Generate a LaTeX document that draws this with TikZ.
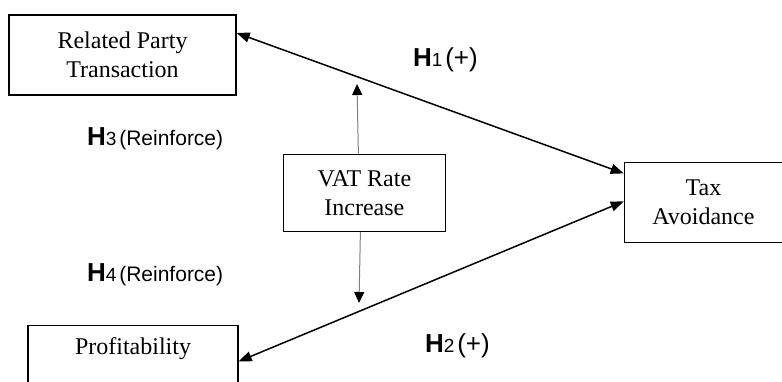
\documentclass[tikz,border=0pt]{standalone}
\usepackage{fontspec}
\setmainfont{Liberation Serif}
\newfontfamily\labelfont{Liberation Sans}
\usetikzlibrary{positioning,arrows.meta}

\tikzset{
    varbox/.style={draw, line width=1.4pt, minimum height=80pt, align=center, inner sep=2pt,
        font=\fontsize{24}{29}\selectfont},
    link/.style={line width=1.5pt, {Triangle[length=13pt,width=10pt]}-{Triangle[length=13pt,width=10pt]}},
    moderate/.style={draw=gray, line width=1pt, -{Triangle[length=11pt,width=10pt,color=black]}},
    hyplabel/.style={anchor=base west, inner sep=0pt, font=\labelfont}
}
\newcommand{\hlabel}[2]{{\fontsize{26}{26}\selectfont\bfseries H}{\fontsize{19}{19}\selectfont #1}\ #2}

\begin{document}
\begin{tikzpicture}[x=1pt, y=-1pt]
    \useasboundingbox (0,0) rectangle (782,382);
    \clip (0,0) rectangle (782,382);

    \node[varbox, minimum width=227pt] (rpt) at (122.5,55) {Related Party\\Transaction};
    \node[varbox, minimum width=162pt, minimum height=77pt, below right=58pt and 46pt of rpt] (vat) {VAT Rate\\Increase};
    \node[varbox, minimum width=158pt, below right=66pt and 387pt of rpt] (tax) {Tax\\Avoidance};
    \node[varbox, minimum width=210pt, below=229pt of rpt, xshift=10.5pt] (prof) {Profitability\\\strut};

    % moderator ends
    \coordinate (up) at (357,84);
    \coordinate (down) at (359,303);

    \draw[link] ([yshift=22pt]rpt.east) -- ([yshift=29pt]tax.west);
    \draw[link] ([yshift=4pt]prof.east) -- ([yshift=1pt]tax.west);
    \draw[moderate] ([xshift=-6pt]vat.north) -- (up);
    \draw[moderate] ([xshift=-4pt]vat.south) -- (down);

    \node[hyplabel] (h1) at (413,67) {\hlabel{1}{\fontsize{26}{26}\selectfont(+)}};
    \node[hyplabel] (h2) at (425,352) {\hlabel{2}{\fontsize{26}{26}\selectfont(+)}};
    \node[hyplabel] (h3) at (87,146) {\hlabel{3}{\fontsize{21}{21}\selectfont(Reinforce)}};
    \node[hyplabel] (h4) at (87,281) {\hlabel{4}{\fontsize{21}{21}\selectfont(Reinforce)}};
\end{tikzpicture}
\end{document}
